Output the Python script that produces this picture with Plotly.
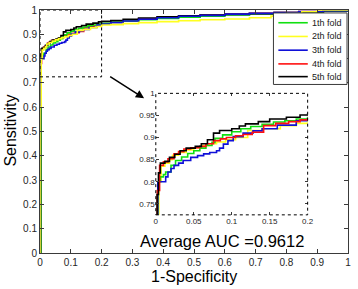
import plotly.graph_objects as go

# ---------------- data ----------------
fold_names = ["1th fold", "2th fold", "3th fold", "4th fold", "5th fold"]
fold_colors = ["#10e010", "#ffff20", "#1010d8", "#ff1010", "#000000"]

fpr_fold1 = [0, 0.003, 0.006, 0.010, 0.013, 0.020, 0.026, 0.034, 0.042, 0.050, 0.058, 0.066,
             0.074, 0.078, 0.088, 0.100, 0.112, 0.125, 0.140, 0.155, 0.170, 0.185, 0.200,
             0.23, 0.27, 0.32, 0.38, 0.45, 0.52, 0.60, 0.68, 0.76, 0.84, 0.92, 1.0]
tpr_fold1 = [0, 0.800, 0.811, 0.816, 0.822, 0.837, 0.848, 0.856, 0.864, 0.870, 0.876, 0.882,
             0.889, 0.898, 0.906, 0.913, 0.920, 0.925, 0.930, 0.935, 0.938, 0.942, 0.945,
             0.950, 0.955, 0.960, 0.965, 0.970, 0.975, 0.980, 0.984, 0.988, 0.992, 0.996, 1.0]

fpr_fold2 = [0, 0, 0.004, 0.007, 0.012, 0.018, 0.022, 0.030, 0.040, 0.050, 0.060, 0.070,
             0.080, 0.092, 0.105, 0.121, 0.140, 0.164, 0.185, 0.200,
             0.23, 0.27, 0.32, 0.38, 0.45, 0.52, 0.60, 0.68, 0.75, 0.80, 0.85, 0.90, 1.0]
tpr_fold2 = [0, 0.600, 0.800, 0.835, 0.842, 0.850, 0.860, 0.866, 0.872, 0.877, 0.882, 0.886,
             0.890, 0.895, 0.900, 0.916, 0.920, 0.927, 0.932, 0.938,
             0.940, 0.944, 0.948, 0.952, 0.956, 0.960, 0.963, 0.968, 0.975, 0.985, 0.993, 1.0, 1.0]

fpr_fold3 = [0, 0, 0.0026, 0.013, 0.016, 0.020, 0.024, 0.030, 0.036, 0.046, 0.055, 0.063,
             0.071, 0.080, 0.084, 0.089, 0.095, 0.102, 0.115, 0.128, 0.140, 0.160, 0.185, 0.200,
             0.23, 0.27, 0.32, 0.38, 0.45, 0.52, 0.60, 0.68, 0.76, 0.84, 0.92, 1.0]
tpr_fold3 = [0, 0.600, 0.800, 0.811, 0.822, 0.830, 0.837, 0.842, 0.848, 0.855, 0.859, 0.863,
             0.866, 0.870, 0.876, 0.885, 0.893, 0.902, 0.910, 0.915, 0.920, 0.928, 0.938, 0.942,
             0.948, 0.955, 0.962, 0.968, 0.974, 0.978, 0.983, 0.986, 0.990, 0.994, 0.997, 1.0]

fpr_fold4 = [0, 0.002, 0.005, 0.010, 0.016, 0.024, 0.030, 0.037, 0.046, 0.058, 0.066, 0.076,
             0.085, 0.093, 0.105, 0.115, 0.127, 0.142, 0.158, 0.175, 0.190, 0.200,
             0.23, 0.27, 0.32, 0.38, 0.45, 0.52, 0.60, 0.68, 0.76, 0.84, 0.92, 1.0]
tpr_fold4 = [0, 0.780, 0.837, 0.845, 0.852, 0.863, 0.868, 0.874, 0.877, 0.880, 0.886, 0.893,
             0.897, 0.900, 0.904, 0.907, 0.912, 0.927, 0.932, 0.936, 0.940, 0.943,
             0.950, 0.956, 0.963, 0.970, 0.975, 0.979, 0.983, 0.986, 0.990, 0.994, 0.997, 1.0]

fpr_fold5 = [0, 0.0017, 0.0035, 0.006, 0.012, 0.018, 0.025, 0.032, 0.040, 0.052, 0.060, 0.068,
             0.076, 0.084, 0.100, 0.110, 0.118, 0.135, 0.150, 0.172, 0.190, 0.200,
             0.23, 0.27, 0.32, 0.38, 0.45, 0.52, 0.60, 0.68, 0.76, 0.84, 0.92, 1.0]
tpr_fold5 = [0, 0.771, 0.820, 0.842, 0.846, 0.855, 0.862, 0.870, 0.876, 0.880, 0.886, 0.895,
             0.910, 0.916, 0.920, 0.926, 0.931, 0.936, 0.942, 0.946, 0.951, 0.953,
             0.957, 0.962, 0.967, 0.972, 0.976, 0.979, 0.982, 0.985, 0.989, 0.993, 0.997, 1.0]

main_ticks = [0, 0.1, 0.2, 0.3, 0.4, 0.5, 0.6, 0.7, 0.8, 0.9, 1]
inset_x_ticks = [0, 0.05, 0.1, 0.15, 0.2]
inset_x_labels = ["0", "0.05", "0.1", "0.15", "0.2"]
inset_y_ticks = [0.75, 0.8, 0.85, 0.9, 0.95, 1]
inset_y_labels = ["0.75", "0.8", "0.85", "0.9", "0.95", "1"]
zoom_x_range = [0, 0.2]
zoom_y_range = [0.725, 1]
average_auc = 0.9612

folds_fpr = [fpr_fold1, fpr_fold2, fpr_fold3, fpr_fold4, fpr_fold5]
folds_tpr = [tpr_fold1, tpr_fold2, tpr_fold3, tpr_fold4, tpr_fold5]
for a, b in zip(folds_fpr, folds_tpr):
    assert len(a) == len(b), (len(a), len(b))

# ---------------- figure ----------------
FONT = "Liberation Sans, Arial, Helvetica, sans-serif"
fig = go.Figure()

main_order = [3, 0, 4, 2, 1]      # draw order in main axes
inset_order = [1, 0, 2, 3, 4]     # draw order in inset axes
for i in main_order:
    fig.add_trace(go.Scatter(x=folds_fpr[i], y=folds_tpr[i], mode="lines",
                             line=dict(color=fold_colors[i], width=1.6, shape="hv"),
                             name=fold_names[i], showlegend=False,
                             xaxis="x", yaxis="y"))
for i in inset_order:
    fig.add_trace(go.Scatter(x=folds_fpr[i], y=folds_tpr[i], mode="lines",
                             line=dict(color=fold_colors[i], width=1.6, shape="hv"),
                             name=fold_names[i], showlegend=False,
                             xaxis="x2", yaxis="y2"))

axis_common = dict(showgrid=False, zeroline=False, ticks="inside", mirror="allticks",
                   showline=True, linecolor="#3a3a3a", linewidth=1, tickcolor="#3a3a3a",
                   tickfont=dict(family=FONT, size=10, color="#262626"))

inset_common = dict(showgrid=False, zeroline=False, ticks="inside", mirror="allticks",
                    showline=False, ticklen=3, tickcolor="#3a3a3a",
                    tickfont=dict(family=FONT, size=8, color="#262626"))

fig.update_layout(
    width=358, height=289,
    margin=dict(l=40, r=4, t=5, b=36),
    paper_bgcolor="white", plot_bgcolor="white",
    showlegend=False,
    xaxis=dict(domain=[0, 1], range=[0, 1], tickvals=main_ticks,
               ticktext=[f"{v:g}" for v in main_ticks], ticklen=4, **axis_common),
    yaxis=dict(domain=[0, 1], range=[0, 1], tickvals=main_ticks,
               ticktext=[f"{v:g}" for v in main_ticks], ticklen=4, **axis_common),
    xaxis2=dict(domain=[0.376, 0.869], anchor="y2", range=zoom_x_range,
                tickvals=inset_x_ticks, ticktext=inset_x_labels, **inset_common),
    yaxis2=dict(domain=[0.157, 0.657], anchor="x2", range=zoom_y_range,
                tickvals=inset_y_ticks, ticktext=inset_y_labels, **inset_common),
)

shapes = []
# dotted zoom rectangle in the main axes
shapes.append(dict(type="rect", xref="x", yref="y", x0=zoom_x_range[0], x1=zoom_x_range[1],
                   y0=zoom_y_range[0], y1=zoom_y_range[1],
                   line=dict(color="black", width=1, dash="dot")))
# dotted border of the inset axes
shapes.append(dict(type="rect", xref="x2 domain", yref="y2 domain", x0=0, x1=1, y0=0, y1=1,
                   line=dict(color="black", width=1, dash="dot")))

# manual legend (compact, as in the reference)
W, H = 314.0, 248.0
def px(xpix):
    return (xpix - 40) / W
def py(ypix):
    return (253 - ypix) / H

shapes.append(dict(type="rect", xref="paper", yref="paper", x0=px(278), x1=px(353),
                   y0=py(81), y1=py(8), fillcolor="white",
                   line=dict(color="#3a3a3a", width=1), layer="above"))
annotations = []
row_y = [18, 32, 46, 60, 73]
for i, name in enumerate(fold_names):
    shapes.append(dict(type="line", xref="paper", yref="paper", x0=px(283), x1=px(313),
                       y0=py(row_y[i]), y1=py(row_y[i]),
                       line=dict(color=fold_colors[i], width=1.6), layer="above"))
    annotations.append(dict(xref="paper", yref="paper", x=px(315), y=py(row_y[i]),
                            text=name, showarrow=False, xanchor="left", yanchor="middle",
                            font=dict(family=FONT, size=9, color="#202020")))

# axis titles and AUC text
annotations.append(dict(xref="paper", yref="paper", x=px(197), y=py(277), text="1-Specificity",
                        showarrow=False, xanchor="center", yanchor="middle",
                        font=dict(family=FONT, size=16, color="black")))
annotations.append(dict(xref="paper", yref="paper", x=px(9.5), y=py(128), text="Sensitivity",
                        showarrow=False, xanchor="center", yanchor="middle", textangle=-90,
                        font=dict(family=FONT, size=16, color="black")))
annotations.append(dict(xref="paper", yref="paper", x=px(225.5), y=py(241),
                        text=f"Average AUC ={average_auc}",
                        showarrow=False, xanchor="center", yanchor="middle",
                        font=dict(family=FONT, size=16.5, color="black")))
# arrow from zoom box to inset
annotations.append(dict(xref="x", yref="y", x=0.338, y=0.637, axref="x", ayref="y",
                        ax=0.223, ay=0.73, text="", showarrow=True, arrowhead=2,
                        arrowsize=1.1, arrowwidth=1.5, arrowcolor="black"))

fig.update_layout(shapes=shapes, annotations=annotations)
fig.write_html("out.html", config={"displayModeBar": False},
               post_script="document.body.style.margin='0';document.body.style.padding='0';")
